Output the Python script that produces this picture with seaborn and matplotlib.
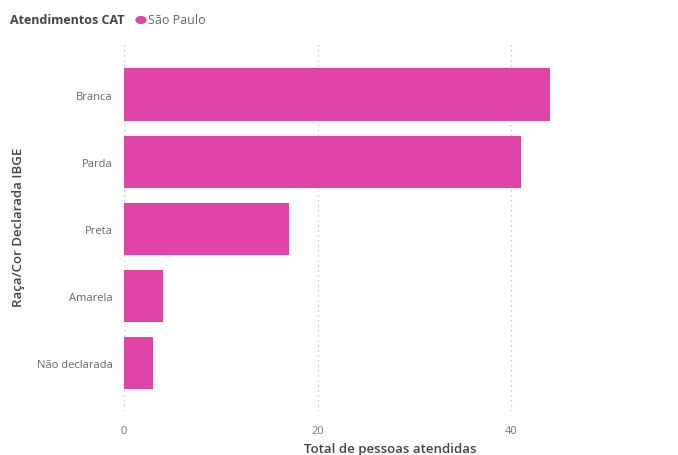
import matplotlib
matplotlib.use("Agg")
import matplotlib.pyplot as plt
import seaborn as sns
import pandas as pd

categories = ["Branca", "Parda", "Preta", "Amarela", "Não declarada"]
values = [44, 41, 17, 4, 3]
xticks = [0, 20, 40]
series_name = "São Paulo"
legend_title = "Atendimentos CAT"

sns.set_theme(style="white")
plt.rcParams['font.family'] = ['Open Sans', 'DejaVu Sans']

df = pd.DataFrame({"cat": categories, "val": values})
color = "#E044A7"

fig = plt.figure(figsize=(6.78, 4.56), dpi=100)
ax = fig.add_axes([0.183, 0.096, 0.785, 0.812])
sns.barplot(data=df, y="cat", x="val", color=color, width=0.78, ax=ax,
            saturation=1, orient="h", edgecolor="none")

ax.set_xlim(0, 55)
ax.set_ylim(4.72, -0.8)
ax.set_xticks(xticks)
ax.set_xticklabels([str(t) for t in xticks], color="#777777", fontsize=8)
ax.tick_params(axis="x", length=0, pad=10)
ax.tick_params(axis="y", length=0, pad=8)
for lbl in ax.get_yticklabels():
    lbl.set_color("#666666")
    lbl.set_fontsize(8)
ax.xaxis.grid(True, linestyle=(0, (1, 3)), color="#BBBBBB", linewidth=0.9)
ax.set_axisbelow(True)
for s in ax.spines.values():
    s.set_visible(False)

ax.set_xlabel("Total de pessoas atendidas", fontsize=9.5, color="#444444",
              fontweight="semibold", labelpad=4)
ax.set_ylabel("Raça/Cor Declarada IBGE", fontsize=9.5, color="#444444",
              fontweight="semibold")
ax.yaxis.set_label_coords(-0.187, 0.5)

fig.text(10/678, 1-21/456, legend_title, fontsize=9, fontweight="bold",
         color="#444444", va="center", ha="left")
fig.patches.append(matplotlib.patches.Circle((141/678, 1-21/456), 5/678,
                   transform=fig.transFigure, color=color, figure=fig))
fig.text(148/678, 1-21/456, series_name, fontsize=9, color="#666666",
         va="center", ha="left")

fig.savefig("out.png", dpi=100)
